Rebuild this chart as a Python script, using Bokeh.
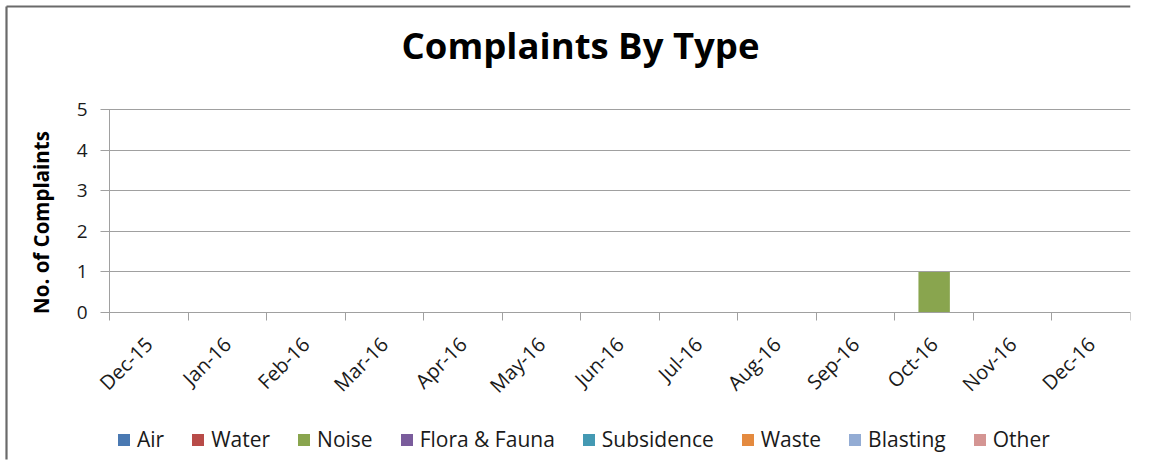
import math
from bokeh.plotting import figure
from bokeh.models import (Range1d, FixedTicker, Legend, LegendItem, Label)
from bokeh.embed import file_html
from bokeh.resources import INLINE

months = ["Dec-15", "Jan-16", "Feb-16", "Mar-16", "Apr-16", "May-16", "Jun-16",
          "Jul-16", "Aug-16", "Sep-16", "Oct-16", "Nov-16", "Dec-16"]
series = ["Air", "Water", "Noise", "Flora & Fauna", "Subsidence", "Waste", "Blasting", "Other"]
colors = ["#4A79B2", "#B84B48", "#89A54E", "#7A5C9C", "#4499B3", "#E48A3F", "#93ACD4", "#D49593"]
air        = [0, 0, 0, 0, 0, 0, 0, 0, 0, 0, 0, 0, 0]
water      = [0, 0, 0, 0, 0, 0, 0, 0, 0, 0, 0, 0, 0]
noise      = [0, 0, 0, 0, 0, 0, 0, 0, 0, 0, 1, 0, 0]
flora      = [0, 0, 0, 0, 0, 0, 0, 0, 0, 0, 0, 0, 0]
subsidence = [0, 0, 0, 0, 0, 0, 0, 0, 0, 0, 0, 0, 0]
waste      = [0, 0, 0, 0, 0, 0, 0, 0, 0, 0, 0, 0, 0]
blasting   = [0, 0, 0, 0, 0, 0, 0, 0, 0, 0, 0, 0, 0]
other      = [0, 0, 0, 0, 0, 0, 0, 0, 0, 0, 0, 0, 0]
y_ticks = [0, 1, 2, 3, 4, 5]
y_max = 5
chart_title = "Complaints By Type"
y_title = "No. of Complaints"

FONT = "Open Sans"
AXIS_COLOR = "#a0a0a0"

# layout (pixels): canvas and plot area
W, H = 1134, 460
PL, PR, PT, PB = 109, 1130, 109, 312
n = len(months)
xs = n / (PR - PL)          # data units per px
ys = y_max / (PB - PT)

def px_x(px):
    return (px - PL) * xs

def px_y(py):
    return (PB - py) * ys

x_pos = [i + 0.5 for i in range(n)]
data = {"x": x_pos, "Air": air, "Water": water, "Noise": noise, "Flora & Fauna": flora,
        "Subsidence": subsidence, "Waste": waste, "Blasting": blasting, "Other": other}

p = figure(width=W, height=H, output_backend="svg", toolbar_location=None, title=None,
           x_range=Range1d(px_x(0), px_x(PR)), y_range=Range1d(px_y(H), px_y(0)),
           min_border_left=0, min_border_right=W - PR, min_border_top=0, min_border_bottom=0)
p.outline_line_color = None
p.background_fill_color = "white"
p.border_fill_color = "white"
p.xgrid.grid_line_color = None
p.ygrid.grid_line_color = None

# outer chart border (left and top edges visible), drawn first so it sits underneath
p.segment(x0=[px_x(6), px_x(6)], y0=[px_y(6), px_y(6)],
          x1=[px_x(PR), px_x(6)], y1=[px_y(6), px_y(H - 1)],
          line_color="#6a6a6a", line_width=2.2)

rs = p.vbar_stack(series, x="x", width=0.4, source=data, color=colors, line_color=None)

# x axis
xa = p.xaxis[0]
xa.fixed_location = 0
xa.bounds = (0, n)
xa.ticker = FixedTicker(ticks=x_pos, minor_ticks=list(range(n + 1)))
xa.major_label_overrides = {x: m for x, m in zip(x_pos, months)}
xa.major_label_orientation = math.pi / 4
xa.major_tick_out = 0
xa.major_tick_in = 0
xa.minor_tick_out = 8
xa.minor_tick_in = 0
xa.major_label_standoff = 20
xa.axis_line_color = AXIS_COLOR
xa.minor_tick_line_color = AXIS_COLOR
xa.major_label_text_font = FONT
xa.major_label_text_font_size = "20px"
xa.major_label_text_color = "#1a1a1a"

# y axis (its inward ticks form the horizontal gridlines)
ya = p.yaxis[0]
ya.fixed_location = 0
ya.bounds = (0, y_max)
ya.ticker = FixedTicker(ticks=y_ticks)
ya.major_tick_out = 9
ya.major_tick_in = PR - PL
ya.minor_tick_line_color = None
ya.major_label_standoff = 13
ya.axis_line_color = AXIS_COLOR
ya.major_tick_line_color = AXIS_COLOR
ya.major_label_text_font = FONT
ya.major_label_text_font_size = "19px"
ya.major_label_text_color = "#1a1a1a"

p.add_layout(Label(x=px_x(40), y=px_y(222), text=y_title, angle=math.pi / 2,
                   text_align="center", text_baseline="middle", text_font=FONT,
                   text_font_style="bold", text_font_size="20.5px", text_color="black"))

p.add_layout(Label(x=px_x(580), y=px_y(44), text=chart_title, text_align="center",
                   text_baseline="alphabetic", text_font=FONT, text_font_style="bold",
                   text_font_size="36.5px", text_color="black"))

legend = Legend(items=[LegendItem(label=s, renderers=[r]) for s, r in zip(series, rs)],
                orientation="horizontal", location=(116, 7), padding=0, margin=0,
                spacing=26, glyph_width=15, glyph_height=15, label_standoff=6,
                border_line_color=None, background_fill_alpha=0,
                label_text_font=FONT, label_text_font_size="21px", label_text_color="#1a1a1a")
p.add_layout(legend, "center")

open("out.html", "w").write(file_html(p, INLINE))
